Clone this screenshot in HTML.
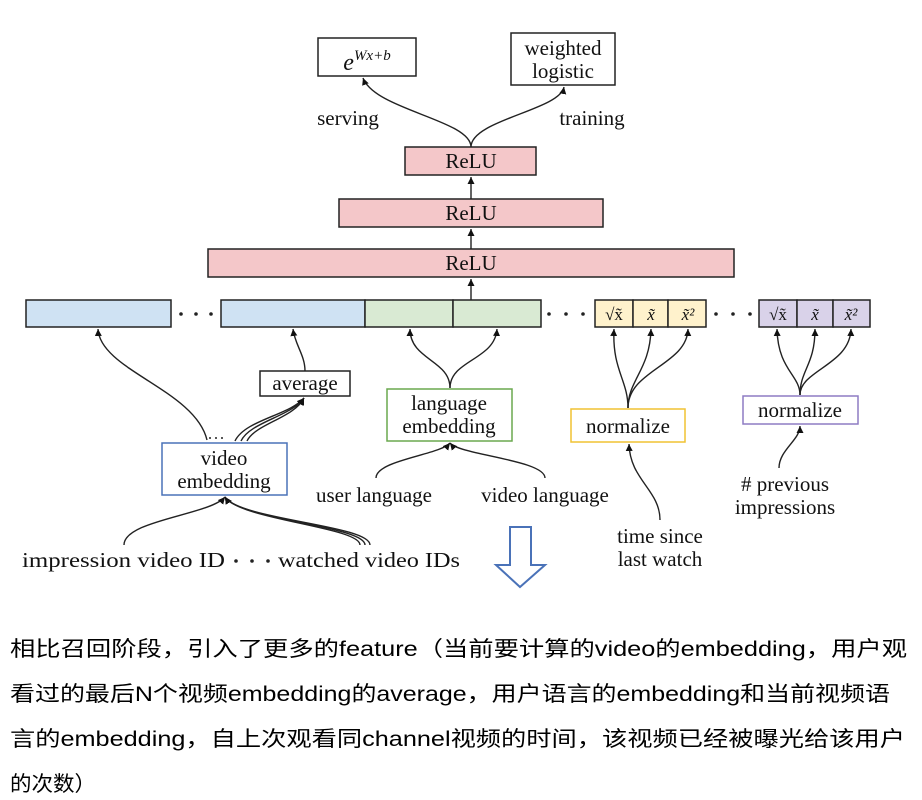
<!DOCTYPE html>
<html><head><meta charset="utf-8"><style>
html,body{margin:0;padding:0;background:#fff;}
svg{display:block}
.s{font-family:"Liberation Serif",serif;font-size:21px;fill:#111}
.c{font-family:"Liberation Sans","Noto Sans CJK SC",sans-serif;font-size:21px;fill:#000}
</style></head><body>
<svg width="922" height="800" viewBox="0 0 922 800" xmlns="http://www.w3.org/2000/svg">
<defs><marker id="a" markerWidth="6" markerHeight="6" refX="5" refY="3" orient="auto"><path d="M0,0.5 L5,3 L0,5.5 z" fill="#111"/></marker></defs>
<g fill="none" stroke="#222" stroke-width="1.5">
<rect x="318" y="38" width="98" height="38" fill="#fff"/>
<rect x="511" y="33" width="104" height="52" fill="#fff"/>
<rect x="405" y="147" width="131" height="28" fill="#f4c7c9"/>
<rect x="339" y="199" width="264" height="28" fill="#f4c7c9"/>
<rect x="208" y="249" width="526" height="28" fill="#f4c7c9"/>
<rect x="26" y="300" width="145" height="27" fill="#cfe2f3"/>
<rect x="221" y="300" width="144" height="27" fill="#cfe2f3"/>
<rect x="365" y="300" width="88" height="27" fill="#d9ead3"/>
<rect x="453" y="300" width="88" height="27" fill="#d9ead3"/>
<rect x="595" y="300" width="38" height="27" fill="#fff2cc"/>
<rect x="633" y="300" width="35" height="27" fill="#fff2cc"/>
<rect x="668" y="300" width="38" height="27" fill="#fff2cc"/>
<rect x="759" y="300" width="38" height="27" fill="#d9d2e9"/>
<rect x="797" y="300" width="36" height="27" fill="#d9d2e9"/>
<rect x="833" y="300" width="37" height="27" fill="#d9d2e9"/>
<rect x="260" y="371" width="90" height="25" fill="#fff"/>
<rect x="162" y="443" width="125" height="52" fill="#fff" stroke="#4a72b8"/>
<rect x="387" y="389" width="125" height="52" fill="#fff" stroke="#6aa84f"/>
<rect x="571" y="409" width="114" height="33" fill="#fff" stroke="#f1c232"/>
<rect x="743" y="396" width="115" height="28" fill="#fff" stroke="#8e7cc3"/>
<path d="M510,527 L531,527 L531,565 L545,565 L520,587 L496,565 L510,565 Z" stroke="#4a72b8" stroke-width="2" fill="#fff"/>
</g>
<g fill="none" stroke="#222" stroke-width="1.4" marker-end="url(#a)">
<path d="M471,147 C471,120 375,110 363,78"/>
<path d="M471,147 C471,120 560,110 564,87"/>
<path d="M471,199 L471,177"/>
<path d="M471,249 L471,229"/>
<path d="M471,300 L471,279"/>
<path d="M207,440 C195,390 100,370 98,329"/>
<path d="M305,371 C305,355 295,345 293,329"/>
<path d="M235,441 C245,420 290,415 304,398"/>
<path d="M241,441 C250,422 292,416 304,398"/>
<path d="M247,441 C255,424 294,418 304,398"/>
<path d="M450,388 C450,360 410,360 410,329"/>
<path d="M450,388 C450,360 495,360 497,329"/>
<path d="M628,408 C628,380 612,370 614,329"/>
<path d="M628,408 C628,380 650,370 651,329"/>
<path d="M628,408 C628,370 687,365 688,329"/>
<path d="M800,395 C800,375 778,370 777,329"/>
<path d="M800,395 C800,370 815,365 815,329"/>
<path d="M800,395 C800,370 850,365 851,329"/>
<path d="M376,478 C376,460 440,455 450,443"/>
<path d="M545,478 C545,460 460,455 450,443"/>
<path d="M660,520 C660,490 630,480 629,444"/>
<path d="M779,468 C779,450 800,440 800,426"/>
<path d="M124,545 C124,520 210,515 225,497"/>
<path d="M370,545 C370,525 240,520 225,497"/>
<path d="M365,545 C365,526 240,520 225,497"/>
<path d="M360,545 C360,527 240,520 225,497"/>
</g>
<g fill="#222"><circle cx="181" cy="314" r="1.8"/><circle cx="196" cy="314" r="1.8"/><circle cx="211" cy="314" r="1.8"/>
<circle cx="549" cy="314" r="1.8"/><circle cx="566" cy="314" r="1.8"/><circle cx="583" cy="314" r="1.8"/>
<circle cx="716" cy="314" r="1.8"/><circle cx="733" cy="314" r="1.8"/><circle cx="750" cy="314" r="1.8"/>
<circle cx="210" cy="438" r="1"/><circle cx="216" cy="438" r="1"/><circle cx="222" cy="438" r="1"/>
<circle cx="236" cy="561" r="1.8"/><circle cx="252" cy="561" r="1.8"/><circle cx="268" cy="561" r="1.8"/></g>
<g class="s" text-anchor="middle">
<text x="367" y="70" font-style="italic" font-size="24">e<tspan font-size="15" dy="-10">Wx+b</tspan></text>
<text x="563" y="55">weighted</text><text x="563" y="78">logistic</text>
<text x="348" y="125">serving</text><text x="592" y="125">training</text>
<text x="471" y="168">ReLU</text><text x="471" y="220">ReLU</text><text x="471" y="270">ReLU</text>
<text x="614" y="320" font-size="17">√x̃</text><text x="651" y="320" font-size="17" font-style="italic">x̃</text><text x="688" y="320" font-size="17" font-style="italic">x̃²</text>
<text x="778" y="320" font-size="17">√x̃</text><text x="815" y="320" font-size="17" font-style="italic">x̃</text><text x="851" y="320" font-size="17" font-style="italic">x̃²</text>
<text x="305" y="390">average</text>
<text x="224" y="465">video</text><text x="224" y="488">embedding</text>
<text x="449" y="410">language</text><text x="449" y="433">embedding</text>
<text x="628" y="433">normalize</text><text x="800" y="417">normalize</text>
<text x="374" y="502">user language</text><text x="545" y="502">video language</text>
<text x="660" y="543">time since</text><text x="660" y="566">last watch</text>
<text x="785" y="491"># previous</text><text x="785" y="514">impressions</text>
</g>
<g class="s">
<text x="22" y="567" textLength="203" lengthAdjust="spacingAndGlyphs">impression video ID</text>
<text x="278" y="567" textLength="182" lengthAdjust="spacingAndGlyphs">watched video IDs</text>
</g>
<g class="c">
<text x="10" y="656" textLength="897" lengthAdjust="spacingAndGlyphs">相比召回阶段，引入了更多的feature（当前要计算的video的embedding，用户观</text>
<text x="10" y="701" textLength="880" lengthAdjust="spacingAndGlyphs">看过的最后N个视频embedding的average，用户语言的embedding和当前视频语</text>
<text x="10" y="746" textLength="895" lengthAdjust="spacingAndGlyphs">言的embedding，自上次观看同channel视频的时间，该视频已经被曝光给该用户</text>
<text x="10" y="791" textLength="86" lengthAdjust="spacingAndGlyphs">的次数）</text>
</g>
</svg>
</body></html>
